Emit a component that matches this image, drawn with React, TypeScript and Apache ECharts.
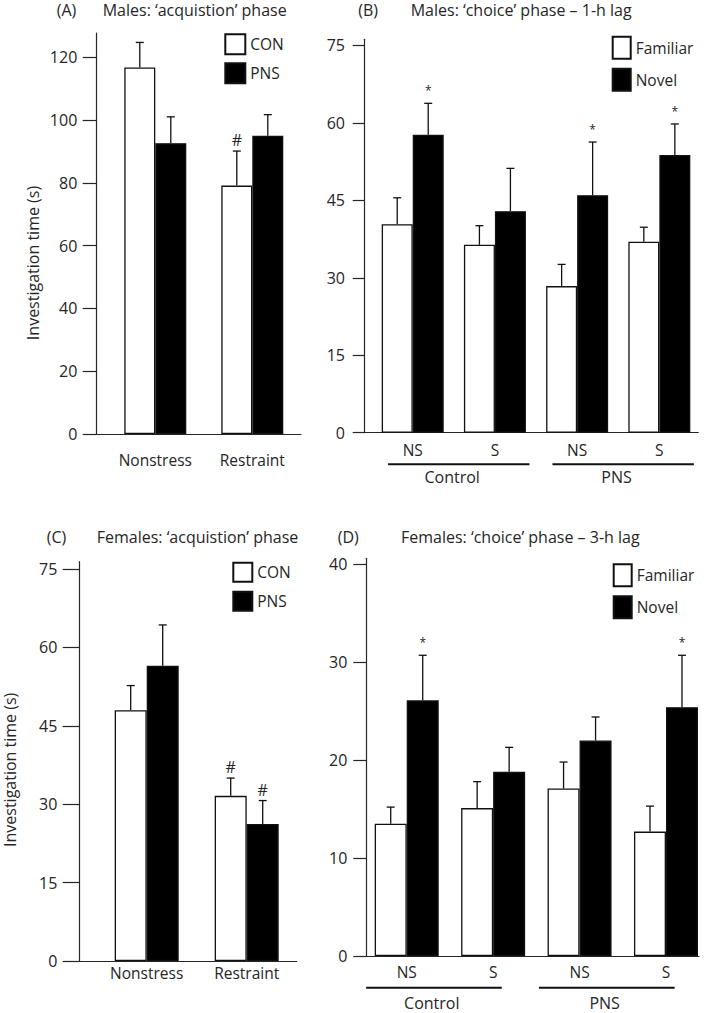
import React, { useEffect, useRef } from "react";
import * as echarts from "echarts";

// ---------- Panel A: Males, acquisition phase ----------
const A_CATEGORIES = ["Nonstress", "Restraint"];
const A_CON = [116.7, 79.1];
const A_CON_UPPER = [124.7, 90.1];
const A_CON_MARKS = ["", "#"];
const A_PNS = [92.6, 95.0];
const A_PNS_UPPER = [101.0, 101.7];
const A_PNS_MARKS = ["", ""];
const A_TICKS = [0, 20, 40, 60, 80, 100, 120];

// ---------- Panel B: Males, choice phase, 1-h lag ----------
const B_CATEGORIES = ["NS", "S", "NS", "S"];
const B_GROUPS = ["Control", "PNS"];
const B_GROUP_MEMBERS = [[0, 1], [2, 3]];
const B_FAMILIAR = [40.4, 36.4, 28.4, 37.0];
const B_FAMILIAR_UPPER = [45.5, 40.1, 32.6, 39.8];
const B_FAMILIAR_MARKS = ["", "", "", ""];
const B_NOVEL = [57.7, 42.9, 46.0, 53.8];
const B_NOVEL_UPPER = [63.8, 51.2, 56.3, 59.8];
const B_NOVEL_MARKS = ["*", "", "*", "*"];
const B_TICKS = [0, 15, 30, 45, 60, 75];

// ---------- Panel C: Females, acquisition phase ----------
const C_CATEGORIES = ["Nonstress", "Restraint"];
const C_CON = [48.0, 31.6];
const C_CON_UPPER = [52.7, 35.0];
const C_CON_MARKS = ["", "#"];
const C_PNS = [56.5, 26.2];
const C_PNS_UPPER = [64.3, 30.7];
const C_PNS_MARKS = ["", "#"];
const C_TICKS = [0, 15, 30, 45, 60, 75];

// ---------- Panel D: Females, choice phase, 3-h lag ----------
const D_CATEGORIES = ["NS", "S", "NS", "S"];
const D_GROUPS = ["Control", "PNS"];
const D_GROUP_MEMBERS = [[0, 1], [2, 3]];
const D_FAMILIAR = [13.5, 15.1, 17.1, 12.7];
const D_FAMILIAR_UPPER = [15.2, 17.8, 19.8, 15.3];
const D_FAMILIAR_MARKS = ["", "", "", ""];
const D_NOVEL = [26.1, 18.8, 22.0, 25.4];
const D_NOVEL_UPPER = [30.7, 21.3, 24.4, 30.7];
const D_NOVEL_MARKS = ["*", "", "", "*"];
const D_TICKS = [0, 10, 20, 30, 40];

const Y_NAME = "Investigation time (s)";

const FONT = "'Open Sans'";
const TEXT = "#262626";
const AXIS = "#262626";
const FS = 16;
const FS_SMALL = 15.5;

type PanelCfg = {
  idx: number;
  grid: { left: number; top: number; right: number; bottom: number };
  yMax: number;
  xMin: number;
  xMax: number;
  barWidth: number;
  tickLen: number;
  yLabelMargin: number;
  xLabelMargin: number;
  yName?: { gap: number; shift: number };
  legend: { left: number; top: number; w: number; h: number; gap: number };
  bracket?: { start: number; end: number; text: number; lineDy: number; textDy: number };
};

function buildPanel(
  cfg: PanelCfg,
  categories: string[],
  ticks: number[],
  s1: { name: string; vals: number[]; upper: number[]; marks: string[] },
  s2: { name: string; vals: number[]; upper: number[]; marks: string[] },
  groups?: { names: string[]; members: number[][] }
) {
  const i = cfg.idx;
  const grid = { ...cfg.grid };
  const xAxis = {
    type: "value",
    gridIndex: i,
    min: cfg.xMin,
    max: cfg.xMax,
    splitLine: { show: false },
    axisTick: { show: false },
    axisLine: { show: true, onZero: false, lineStyle: { color: AXIS, width: 1.2 } },
    axisLabel: {
      customValues: categories.map((_, k) => k + 1),
      formatter: (v: number) => categories[Math.round(v) - 1] ?? "",
      margin: cfg.xLabelMargin,
      color: TEXT,
      fontFamily: FONT,
      fontSize: FS_SMALL,
    },
  };
  const yAxis: any = {
    type: "value",
    gridIndex: i,
    min: 0,
    max: cfg.yMax,
    splitLine: { show: false },
    axisLine: { show: true, onZero: false, lineStyle: { color: AXIS, width: 1.2 } },
    axisTick: { show: true, length: cfg.tickLen, customValues: ticks, lineStyle: { color: AXIS, width: 1.2 } },
    axisLabel: {
      customValues: ticks,
      margin: cfg.yLabelMargin,
      color: TEXT,
      fontFamily: FONT,
      fontSize: FS,
    },
  };
  if (cfg.yName) {
    yAxis.name = Y_NAME;
    yAxis.nameLocation = "middle";
    yAxis.nameGap = cfg.yName.gap;
    yAxis.nameTextStyle = {
      color: TEXT,
      fontFamily: FONT,
      fontSize: FS,
      padding: [0, cfg.yName.shift, 0, 0],
    };
  }
  const half = cfg.barWidth / 2;
  const barSeries = (s: typeof s1, white: boolean) => ({
    type: "bar",
    name: s.name,
    xAxisIndex: i,
    yAxisIndex: i,
    barWidth: cfg.barWidth,
    barGap: "0%",
    silent: true,
    data: s.vals.map((v, k) => [k + 1, v]),
    itemStyle: {
      color: white ? "#ffffff" : "#000000",
      borderColor: "#111",
      borderWidth: 1.3,
    },
    z: 2,
  });
  const errSeries = (s: typeof s1, shift: number) => ({
    type: "custom",
    name: `${s.name}-err-${i}`,
    xAxisIndex: i,
    yAxisIndex: i,
    silent: true,
    clip: false,
    z: 5,
    data: s.vals.map((v, k) => [k + 1, v, s.upper[k]]),
    renderItem: (params: any, api: any) => {
      const x = api.value(0);
      const b = api.coord([x, api.value(1)]);
      const t = api.coord([x, api.value(2)]);
      const cx = b[0] + shift;
      const children: any[] = [
        { type: "line", shape: { x1: cx, y1: b[1], x2: cx, y2: t[1] }, style: { stroke: "#111", lineWidth: 1.3 } },
        { type: "line", shape: { x1: cx - 4, y1: t[1], x2: cx + 4, y2: t[1] }, style: { stroke: "#111", lineWidth: 1.3 } },
      ];
      const mark = s.marks[params.dataIndex];
      if (mark) {
        const star = mark === "*";
        children.push({
          type: "text",
          x: cx,
          y: t[1] - (star ? 12.5 : 11),
          style: {
            text: mark,
            fill: TEXT,
            font: `${star ? 12 : FS}px ${FONT}`,
            align: "center",
            verticalAlign: "middle",
          },
        });
      }
      return { type: "group", children };
    },
  });
  const series: any[] = [barSeries(s1, true), barSeries(s2, false), errSeries(s1, -half), errSeries(s2, half)];
  if (groups && cfg.bracket) {
    const br = cfg.bracket;
    series.push({
      type: "custom",
      name: `groups-${i}`,
      xAxisIndex: i,
      yAxisIndex: i,
      silent: true,
      clip: false,
      z: 5,
      data: groups.members.map((m) => [m[0] + 1, m[m.length - 1] + 1]),
      renderItem: (params: any, api: any) => {
        const first = api.value(0);
        const last = api.value(1);
        const p0 = api.coord([first + br.start, 0]);
        const p1 = api.coord([last + br.end, 0]);
        const pt = api.coord([(first + last) / 2 + br.text, 0]);
        return {
          type: "group",
          children: [
            { type: "line", shape: { x1: p0[0], y1: p0[1] + br.lineDy, x2: p1[0], y2: p1[1] + br.lineDy }, style: { stroke: "#111", lineWidth: 2 } },
            {
              type: "text",
              x: pt[0],
              y: pt[1] + br.textDy,
              style: { text: groups.names[params.dataIndex], fill: TEXT, font: `${FS}px ${FONT}`, align: "center", verticalAlign: "middle" },
            },
          ],
        };
      },
    });
  }
  const legend = {
    left: cfg.legend.left,
    top: cfg.legend.top,
    orient: "vertical",
    icon: "rect",
    itemWidth: cfg.legend.w,
    itemHeight: cfg.legend.h,
    itemGap: cfg.legend.gap,
    selectedMode: false,
    padding: 0,
    data: [s1.name, s2.name],
    textStyle: { color: TEXT, fontFamily: FONT, fontSize: FS_SMALL },
  };
  return { grid, xAxis, yAxis, series, legend };
}

const W = 709;
const H = 1013;

function buildOption() {
  const pA = buildPanel(
    {
      idx: 0,
      grid: { left: 96.7, top: 33, right: W - 301, bottom: H - 434 },
      yMax: 127.7,
      xMin: 0.396,
      xMax: 2.502,
      barWidth: 31,
      tickLen: 14,
      yLabelMargin: 19.4,
      xLabelMargin: 18,
      yName: { gap: 55.7, shift: 59 },
      legend: { left: 224.3, top: 33.3, w: 20, h: 20, gap: 7 },
    },
    A_CATEGORIES,
    A_TICKS,
    { name: "CON", vals: A_CON, upper: A_CON_UPPER, marks: A_CON_MARKS },
    { name: "PNS", vals: A_PNS, upper: A_PNS_UPPER, marks: A_PNS_MARKS }
  );
  const pB = buildPanel(
    {
      idx: 1,
      grid: { left: 364.3, top: 39.3, right: W - 698.3, bottom: H - 432.7 },
      yMax: 76.2,
      xMin: 0.411,
      xMax: 4.474,
      barWidth: 31,
      tickLen: 11.6,
      yLabelMargin: 19.3,
      xLabelMargin: 9,
      legend: { left: 611.7, top: 35.7, w: 18, h: 22, gap: 8 },
      bracket: { start: -0.3, end: 0.42, text: -0.02, lineDy: 31.6, textDy: 44.6 },
    },
    B_CATEGORIES,
    B_TICKS,
    { name: "Familiar", vals: B_FAMILIAR, upper: B_FAMILIAR_UPPER, marks: B_FAMILIAR_MARKS },
    { name: "Novel", vals: B_NOVEL, upper: B_NOVEL_UPPER, marks: B_NOVEL_MARKS },
    { names: B_GROUPS, members: B_GROUP_MEMBERS }
  );
  const pC = buildPanel(
    {
      idx: 2,
      grid: { left: 79.3, top: 561.7, right: W - 296.7, bottom: H - 961 },
      yMax: 76.4,
      xMin: 0.326,
      xMax: 2.5,
      barWidth: 32,
      tickLen: 16.6,
      yLabelMargin: 22,
      xLabelMargin: 4,
      yName: { gap: 61.3, shift: 17 },
      legend: { left: 232.3, top: 561.7, w: 19, h: 19, gap: 8 },
    },
    C_CATEGORIES,
    C_TICKS,
    { name: "CON", vals: C_CON, upper: C_CON_UPPER, marks: C_CON_MARKS },
    { name: "PNS", vals: C_PNS, upper: C_PNS_UPPER, marks: C_PNS_MARKS }
  );
  const pD = buildPanel(
    {
      idx: 3,
      grid: { left: 366.7, top: 558.3, right: W - 699, bottom: H - 956 },
      yMax: 40.6,
      xMin: 0.537,
      xMax: 4.382,
      barWidth: 32,
      tickLen: 13.4,
      yLabelMargin: 19.4,
      xLabelMargin: 7.5,
      legend: { left: 612.7, top: 563.3, w: 18, h: 22, gap: 8 },
      bracket: { start: -0.47, end: 0.1, text: -0.21, lineDy: 31.7, textDy: 46.5 },
    },
    D_CATEGORIES,
    D_TICKS,
    { name: "Familiar", vals: D_FAMILIAR, upper: D_FAMILIAR_UPPER, marks: D_FAMILIAR_MARKS },
    { name: "Novel", vals: D_NOVEL, upper: D_NOVEL_UPPER, marks: D_NOVEL_MARKS },
    { names: D_GROUPS, members: D_GROUP_MEMBERS }
  );
  const panels = [pA, pB, pC, pD];

  const titleText = (x: number, y: number, text: string) => ({
    type: "text",
    x,
    y,
    silent: true,
    style: { text, fill: TEXT, font: `${FS}px ${FONT}`, align: "left", verticalAlign: "middle" },
  });

  return {
    animation: false,
    backgroundColor: "#ffffff",
    textStyle: { fontFamily: FONT },
    grid: panels.map((p) => p.grid),
    xAxis: panels.map((p) => p.xAxis),
    yAxis: panels.map((p) => p.yAxis),
    legend: panels.map((p) => p.legend),
    series: panels.flatMap((p) => p.series),
    graphic: [
      titleText(56.7, 10, "(A)"),
      titleText(102.7, 10, "Males: \u2018acquistion\u2019 phase"),
      titleText(358.3, 10, "(B)"),
      titleText(410.7, 10, "Males: \u2018choice\u2019 phase \u2013 1-h lag"),
      titleText(46.7, 537, "(C)"),
      titleText(96.7, 537, "Females: \u2018acquistion\u2019 phase"),
      titleText(337.7, 537, "(D)"),
      titleText(401, 537, "Females: \u2018choice\u2019 phase \u2013 3-h lag"),
    ],
  };
}

export default function App() {
  const ref = useRef<HTMLDivElement>(null);
  useEffect(() => {
    if (!ref.current) return;
    const chart = echarts.init(ref.current, undefined, { renderer: "svg" });
    chart.setOption(buildOption() as any);
    return () => chart.dispose();
  }, []);
  return (
    <div
      ref={ref}
      style={{ position: "absolute", left: 0, top: 0, width: W, height: H, background: "#fff" }}
    />
  );
}
